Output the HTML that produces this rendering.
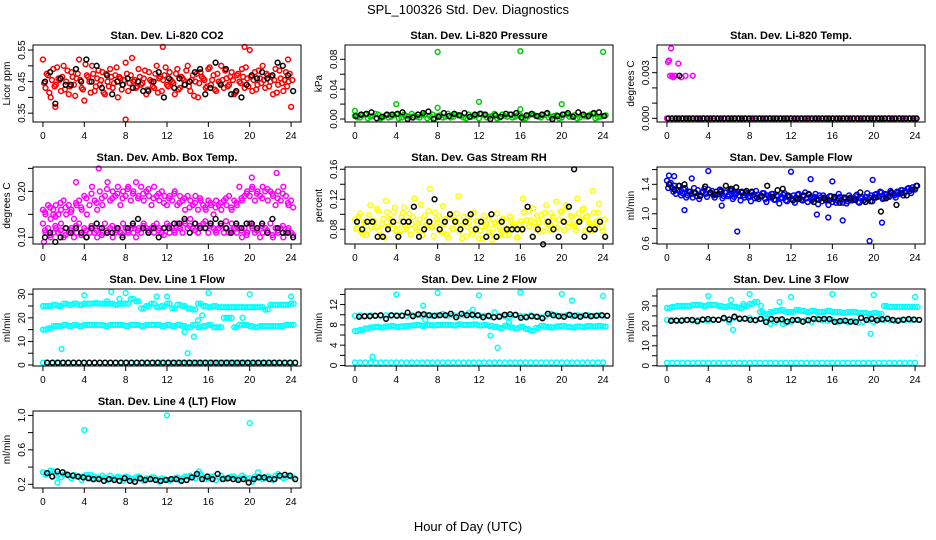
<!DOCTYPE html>
<html><head><meta charset="utf-8">
<style>
html,body{margin:0;padding:0;background:#fff;}
svg{display:block;font-family:"Liberation Sans",Arial,sans-serif;}
</style></head>
<body>
<svg id="chart" width="936" height="540" viewBox="0 0 936 540">
<text x="468" y="14" text-anchor="middle" font-size="13">SPL_100326  Std. Dev. Diagnostics</text>
<text x="468" y="531" text-anchor="middle" font-size="13">Hour of Day (UTC)</text>
</svg>
<script>
// ---- data arrays ----
const xTicks = [0,4,8,12,16,20,24];
const co2RedA = [0.52,0.43,0.47,0.40,0.49,0.44,0.46,0.42,0.50,0.45,0.41,0.48,0.44,0.46,0.52,0.43,0.39,0.47,0.45,0.50,0.42,0.46,0.44,0.48,0.41,0.45,0.49,0.43,0.47,0.40,0.46,0.44,0.51,0.42,0.47,0.45,0.43,0.49,0.44,0.46,0.41,0.48,0.45,0.43,0.50,0.46,0.42,0.47,0.44,0.48,0.45,0.41,0.49,0.43,0.46,0.44,0.50,0.42,0.47,0.45,0.40,0.48,0.46,0.43,0.49,0.44,0.47,0.42,0.45,0.50,0.43,0.46,0.44,0.48,0.41,0.47,0.45,0.49,0.43,0.46,0.55,0.42,0.48,0.44,0.46,0.50,0.43,0.47,0.45,0.41,0.49,0.44,0.46,0.42,0.48,0.45,0.37];
const co2RedB = [0.445,0.475,0.415,0.455,0.435,0.495,0.455,0.465,0.425,0.485,0.435,0.465,0.405,0.475,0.455,0.425,0.505,0.465,0.415,0.475,0.435,0.485,0.455,0.415,0.475,0.435,0.465,0.445,0.495,0.465,0.425,0.455,0.475,0.445,0.525,0.455,0.435,0.465,0.445,0.485,0.425,0.455,0.435,0.475,0.415,0.465,0.455,0.495,0.435,0.455,0.445,0.475,0.425,0.465,0.455,0.485,0.435,0.455,0.405,0.475,0.445,0.465,0.455,0.435,0.495,0.455,0.425,0.475,0.445,0.455,0.485,0.435,0.465,0.455,0.415,0.475,0.445,0.465,0.495,0.435,0.465,0.455,0.425,0.485,0.445,0.455,0.475,0.435,0.465,0.455,0.415,0.485,0.445,0.455,0.435,0.475,0.455];
const co2Outlier = [0.56,0.33,0.56,0.37,0.52];
const co2OutlierT = [11.6,8,19.5,1.2,23.7];
const co2Black = [0.45,0.48,0.38,0.46,0.44,0.44,0.49,0.45,0.52,0.45,0.50,0.43,0.47,0.41,0.45,0.44,0.46,0.43,0.45,0.42,0.42,0.45,0.48,0.40,0.46,0.43,0.46,0.44,0.45,0.48,0.49,0.41,0.43,0.51,0.44,0.49,0.41,0.42,0.40,0.44,0.47,0.46,0.48,0.46,0.47,0.51,0.50,0.47,0.42];

const presGreenA = [0.004,0.002,0.006,0.003,0.007,0.001,0.005,0.003,0.006,0.002,0.004,0.007,0.003,0.005,0.001,0.006,0.004,0.002,0.007,0.003,0.005,0.002,0.006,0.004,0.001,0.005,0.003,0.007,0.002,0.004,0.006,0.003,0.005,0.001,0.006,0.004,0.002,0.007,0.003,0.005,0.002,0.006,0.004,0.001,0.005,0.003,0.007,0.002,0.004];
const presGreenB = [0.002,0.005,0.001,0.004,0.006,0.003,0.002,0.005,0.001,0.006,0.003,0.004,0.002,0.006,0.004,0.001,0.005,0.003,0.002,0.006,0.004,0.001,0.003,0.005,0.007,0.002,0.004,0.001,0.006,0.003,0.002,0.005,0.001,0.004,0.006,0.003,0.005,0.002,0.004,0.001,0.006,0.003,0.005,0.002,0.004,0.006,0.001,0.003,0.005];
const presOutlierT = [0,4,8,8,12,16,16,20,24];
const presOutlier = [0.011,0.020,0.090,0.015,0.023,0.091,0.013,0.020,0.090];
const presBlack = [0.004,0.006,0.007,0.009,0.001,0.003,0.006,0.006,0.007,0.009,0.000,0.002,0.006,0.008,0.010,0.000,0.003,0.008,0.004,0.007,0.005,0.008,0.003,0.006,0.007,0.006,0.000,0.005,0.003,0.007,0.006,0.008,0.002,0.005,0.007,0.004,0.006,0.008,0.000,0.004,0.006,0.008,0.003,0.009,0.006,0.004,0.008,0.009,0.004];

const tempMagentaZero = [0,0,0,0,0,0,0,0,0,0,0,0,0,0,0,0,0,0,0,0,0,0,0,0,0,0,0,0,0,0,0,0,0,0,0,0,0,0,0,0,0,0,0,0,0,0,0,0,0];
const tempMagentaT = [0.1,0.2,0.4,0.5,0.6,0.8,1.1,1.4,1.8,2.5,0.3];
const tempMagenta = [0.0037,0.0038,0.0046,0.0028,0.0027,0.0028,0.0036,0.0027,0.0028,0.0028,0.0028];
const tempBlack = [0,0,0,0,0,0,0,0,0,0,0,0,0,0,0,0,0,0,0,0,0,0,0,0,0,0,0,0,0,0,0,0,0,0,0,0,0,0,0,0,0,0,0,0,0,0,0,0,0,0,0,0,0,0,0,0,0,0,0,0,0,0,0,0,0,0,0,0,0,0,0,0];
const tempBlackT = [1.2];
const tempBlackHigh = [0.0028];

const ambUpper = [0.16,0.15,0.17,0.14,0.16,0.17,0.15,0.16,0.18,0.15,0.17,0.16,0.14,0.17,0.18,0.16,0.19,0.15,0.17,0.21,0.18,0.16,0.20,0.17,0.19,0.22,0.18,0.20,0.19,0.21,0.17,0.20,0.19,0.21,0.18,0.20,0.22,0.19,0.21,0.18,0.20,0.19,0.17,0.21,0.19,0.18,0.20,0.19,0.17,0.19,0.18,0.20,0.17,0.19,0.18,0.16,0.19,0.18,0.17,0.19,0.16,0.18,0.17,0.16,0.18,0.17,0.15,0.18,0.17,0.16,0.18,0.17,0.19,0.16,0.18,0.17,0.21,0.18,0.19,0.20,0.19,0.21,0.18,0.20,0.19,0.21,0.20,0.18,0.20,0.19,0.17,0.20,0.18,0.21,0.19,0.17,0.18];
const ambUpperB = [0.155,0.165,0.145,0.175,0.165,0.155,0.175,0.165,0.185,0.195,0.175,0.185,0.205,0.185,0.195,0.185,0.205,0.195,0.185,0.195,0.205,0.185,0.195,0.175,0.185,0.195,0.175,0.185,0.165,0.175,0.185,0.165,0.175,0.165,0.175,0.185,0.165,0.175,0.185,0.195,0.205,0.195,0.185,0.205,0.195,0.185,0.195,0.175,0.165];
const ambLower = [0.13,0.11,0.12,0.10,0.11,0.12,0.11,0.13,0.10,0.12,0.11,0.12,0.10,0.11,0.13,0.11,0.12,0.10,0.11,0.12,0.11,0.10,0.12,0.11,0.13,0.11,0.12,0.10,0.11,0.12,0.11,0.13,0.12,0.11,0.12,0.11,0.10,0.12,0.11,0.13,0.12,0.11,0.12,0.11,0.13,0.12,0.11,0.12,0.13,0.11,0.12,0.11,0.13,0.12,0.11,0.13,0.12,0.14,0.12,0.13,0.11,0.12,0.13,0.12,0.11,0.13,0.12,0.11,0.12,0.13,0.11,0.12,0.11,0.13,0.12,0.11,0.12,0.10,0.12,0.11,0.13,0.12,0.11,0.12,0.10,0.11,0.12,0.11,0.13,0.10,0.12,0.11,0.12,0.10,0.11,0.12,0.11];
const ambLowerB = [0.115,0.105,0.125,0.115,0.105,0.115,0.125,0.105,0.115,0.125,0.115,0.105,0.115,0.125,0.115,0.105,0.115,0.125,0.115,0.125,0.115,0.125,0.115,0.105,0.125,0.115,0.125,0.135,0.125,0.115,0.125,0.135,0.125,0.115,0.125,0.135,0.115,0.125,0.115,0.105,0.125,0.115,0.125,0.115,0.105,0.115,0.125,0.115,0.105];
const ambOutlierT = [5.4,3.2,20.2,22.6,0.1,1.0];
const ambOutlier = [0.25,0.22,0.23,0.24,0.09,0.15];
const ambBlack = [0.10,0.11,0.09,0.10,0.12,0.11,0.12,0.11,0.10,0.12,0.13,0.12,0.11,0.11,0.12,0.10,0.12,0.13,0.14,0.12,0.11,0.12,0.10,0.12,0.12,0.13,0.13,0.14,0.11,0.13,0.12,0.12,0.13,0.14,0.13,0.12,0.11,0.13,0.12,0.13,0.13,0.12,0.13,0.11,0.14,0.12,0.11,0.11,0.10];

const rhYellowA = [0.093,0.082,0.101,0.074,0.088,0.079,0.112,0.091,0.083,0.104,0.071,0.094,0.118,0.084,0.092,0.103,0.078,0.073,0.096,0.109,0.081,0.101,0.087,0.121,0.079,0.093,0.072,0.098,0.086,0.134,0.083,0.102,0.089,0.077,0.111,0.094,0.069,0.099,0.081,0.092,0.124,0.085,0.097,0.071,0.088,0.079,0.102,0.091,0.068,0.084,0.098,0.087,0.076,0.066,0.089,0.101,0.082,0.093,0.072,0.079,0.097,0.088,0.083,0.069,0.091,0.121,0.086,0.104,0.092,0.108,0.081,0.089,0.099,0.078,0.112,0.087,0.101,0.082,0.117,0.093,0.104,0.079,0.109,0.088,0.097,0.084,0.121,0.091,0.106,0.078,0.098,0.087,0.131,0.083,0.102,0.092,0.078];
const rhYellowB = [0.081,0.097,0.076,0.089,0.072,0.099,0.083,0.091,0.107,0.078,0.087,0.069,0.103,0.094,0.081,0.109,0.086,0.077,0.101,0.084,0.091,0.073,0.096,0.082,0.088,0.113,0.079,0.086,0.104,0.083,0.071,0.093,0.098,0.076,0.087,0.073,0.096,0.081,0.092,0.101,0.077,0.068,0.089,0.083,0.097,0.074,0.081,0.091,0.078,0.067,0.084,0.093,0.072,0.081,0.089,0.071,0.079,0.094,0.082,0.073,0.091,0.083,0.069,0.087,0.079,0.103,0.092,0.084,0.071,0.089,0.098,0.077,0.093,0.102,0.086,0.079,0.097,0.088,0.082,0.103,0.091,0.112,0.083,0.098,0.087,0.079,0.101,0.093,0.108,0.097,0.089,0.078,0.102,0.091,0.114,0.084,0.093];
const rhBlack = [0.09,0.08,0.09,0.09,0.07,0.07,0.08,0.09,0.07,0.09,0.09,0.11,0.07,0.08,0.09,0.12,0.08,0.09,0.10,0.09,0.08,0.09,0.10,0.08,0.09,0.07,0.10,0.07,0.09,0.08,0.08,0.08,0.08,0.11,0.07,0.08,0.06,0.09,0.08,0.07,0.09,0.11,0.16,0.09,0.07,0.08,0.08,0.09,0.07];

const flowBlueA = [1.45,1.40,1.35,1.38,1.32,1.30,1.28,1.35,1.25,1.30,1.22,1.28,1.32,1.25,1.30,1.27,1.33,1.28,1.25,1.30,1.27,1.32,1.24,1.29,1.26,1.31,1.23,1.28,1.25,1.30,1.22,1.27,1.24,1.29,1.21,1.26,1.23,1.28,1.20,1.25,1.22,1.27,1.19,1.24,1.21,1.26,1.18,1.23,1.20,1.25,1.22,1.27,1.19,1.24,1.21,1.26,1.18,1.23,1.20,1.25,1.17,1.22,1.19,1.24,1.16,1.21,1.18,1.23,1.15,1.20,1.17,1.22,1.19,1.24,1.16,1.21,1.18,1.23,1.20,1.25,1.22,1.27,1.24,1.29,1.21,1.26,1.23,1.28,1.25,1.30,1.27,1.32,1.29,1.34,1.31,1.36,1.33];
const flowBlueB = [1.35,1.42,1.30,1.27,1.38,1.25,1.33,1.22,1.30,1.27,1.35,1.24,1.20,1.29,1.34,1.23,1.28,1.31,1.22,1.26,1.33,1.21,1.29,1.24,1.32,1.20,1.27,1.30,1.18,1.25,1.29,1.22,1.17,1.26,1.31,1.20,1.24,1.28,1.16,1.23,1.27,1.19,1.25,1.14,1.22,1.28,1.17,1.24,1.20,1.15,1.26,1.21,1.18,1.29,1.16,1.23,1.20,1.27,1.13,1.22,1.25,1.18,1.12,1.24,1.20,1.15,1.27,1.19,1.22,1.14,1.25,1.18,1.21,1.26,1.15,1.23,1.19,1.28,1.22,1.17,1.26,1.23,1.30,1.20,1.27,1.24,1.31,1.26,1.22,1.29,1.32,1.25,1.30,1.35,1.28,1.33,1.38];
const flowOutlierT = [1.7,2.4,4,5.3,6.8,12,13.9,14.5,15.6,16,17,19.6,19.9,20.8,0.2,0.7];
const flowOutlier = [1.05,1.48,1.58,1.11,0.76,1.57,1.47,0.99,0.95,1.44,0.91,0.63,1.46,0.88,1.52,1.51];
const flowBlack = [1.40,1.33,1.38,1.40,1.30,1.29,1.24,1.37,1.29,1.26,1.30,1.38,1.34,1.36,1.29,1.31,1.30,1.22,1.24,1.38,1.23,1.32,1.34,1.25,1.18,1.20,1.25,1.27,1.16,1.19,1.21,1.18,1.23,1.15,1.22,1.21,1.19,1.29,1.16,1.17,1.22,1.03,1.21,1.29,1.12,1.28,1.25,1.33,1.38];

const l1Upper = [25,25,25.5,25,26,25.5,26,25.5,26,26,26.2,26,26,26,25.5,26,26,28,27,24,25,26,24.5,25,26,24,25.5,25,24,23.5,26,25,24.5,25,24.5,24.5,24.5,24.5,24.5,24.5,24.5,24.5,24.5,23.5,25.5,25.5,25.5,25.5,26];
const l1Lower = [15,15.5,16.5,16.5,17,16.5,17,16.5,17,17,17,17,16.5,17,17,17,16.5,17,17,16.5,17,17,17,16.5,17,16.5,17,16.5,16,17,16,16.5,17,16,16,20,20,16,17,17,16.5,16,16.5,16.5,16.5,16.5,16.5,17,17];
const l1Bottom = [1,1,1,1,1,1,1,1,1,1,1,1,1,1,1,1,1,1,1,1,1,1,1,1,1,1,1,1,1,1,1,1,1,1,1,1,1,1,1,1,1,1,1,1,1,1,1,1,1];
const l1OutlierT = [1.8,4,6.6,8,11,12,13.7,14,16,20,24,14.6,15,15.4,19.3,6.2,7.4];
const l1Outlier = [6.8,29.5,31,30.5,29,29,14,5,30.5,30,29,12,19,21,20,27,28];
const l1Black = [1,1,1,1,1,1,1,1,1,1,1,1,1,1,1,1,1,1,1,1,1,1,1,1,1,1,1,1,1,1,1,1,1,1,1,1,1,1,1,1,1,1,1,1,1,1,1,1];

const l2Upper = [9.8,9.9,9.8,9.9,9.8,9.8,9.9,9.8,9.9,9.9,9.8,9.9,9.9,9.8,9.9,9.8,9.9,10.2,9.8,9.9,9.8,9.9,10.3,9.8,9.9,9.8,9.6,10.5,9.8,9.7,9.6,9.9,9.8,9.7,9.9,9.6,9.5,9.8,10.2,9.9,9.8,9.9,9.8,9.9,9.8,9.9,9.8,9.9,9.8];
const l2Mid = [6.8,7,7.3,7.5,7.6,7.5,7.7,7.8,7.6,7.7,7.8,7.9,8,7.8,8,7.9,8,8,8,7.9,8.1,8,8,8.1,7.9,8,7.8,7.6,7.4,7.8,7.5,7.3,7.6,7.2,6.9,7.4,7.8,7.6,7.5,7.7,7.8,7.6,7.5,7.7,7.6,7.8,7.7,7.8,7.7];
const l2Bottom = [0.6,0.6,0.6,0.6,0.6,0.6,0.6,0.6,0.6,0.6,0.6,0.6,0.6,0.6,0.6,0.6,0.6,0.6,0.6,0.6,0.6,0.6,0.6,0.6,0.6,0.6,0.6,0.6,0.6,0.6,0.6,0.6,0.6,0.6,0.6,0.6,0.6,0.6,0.6,0.6,0.6,0.6,0.6,0.6,0.6,0.6,0.6,0.6,0.6];
const l2OutlierT = [1.7,4,6.6,8,11.4,12,13.1,13.8,16,20,21,24,6.8,14.9];
const l2Outlier = [1.7,14,11.8,14.3,11,13.8,5.9,3.5,14.4,14.1,12.8,13.7,9,8.5];
const l2Black = [9.6,9.7,9.7,9.8,9.9,9.2,9.9,9.8,9.8,10.4,9.7,10.1,10.1,9.9,9.8,9.9,9.9,10.2,9.5,10.2,9.9,10.0,9.9,9.5,9.8,9.5,9.6,10.0,10.1,10.0,9.4,9.5,9.7,9.6,9.3,10.2,9.9,9.7,9.6,10.0,9.8,9.6,9.9,9.7,9.8,9.9,9.8];

const l3Upper = [29,29.5,30,30,30,30.5,30.5,30,30.5,30.5,30,29.5,30,29.5,29,30,31,32,27,26,27,27.5,28,27,27,28,27.5,27,27.5,27,27,27.5,27,27,26.5,27,27,26.5,26.5,26,26.5,26,30,29.5,29.5,29.5,29.5,29.5,29.5];
const l3Mid = [23,23,22.5,23,23,22.5,23,23,22.5,23,23,23.5,22,24,24,23.5,24,23,23.5,22.5,21,22,23,21.5,22,23,22.5,23,22,23.5,23,22.5,23,22,22.5,22,22.5,21.5,22,23,22,23,23,23,22.5,23,23,23,23];
const l3Bottom = [1.5,1.5,1.5,1.5,1.5,1.5,1.5,1.5,1.5,1.5,1.5,1.5,1.5,1.5,1.5,1.5,1.5,1.5,1.5,1.5,1.5,1.5,1.5,1.5,1.5,1.5,1.5,1.5,1.5,1.5,1.5,1.5,1.5,1.5,1.5,1.5,1.5,1.5,1.5,1.5,1.5,1.5,1.5,1.5,1.5,1.5,1.5,1.5,1.5];
const l3OutlierT = [4,6.4,8,10,12,16,20,19.7,24,6.2,7.4,9.1,10.9,11.2];
const l3Outlier = [35,18,36,23,34.5,36,35.5,16,34.5,33,31,30,32,21];
const l3Black = [22.5,22.7,22.6,22.9,23.0,22.3,23.2,23.4,23.1,23.0,24.0,23.2,24.6,23.5,23.6,23.0,22.8,23.5,21.9,23.4,23.0,23.3,22.2,22.9,23.0,22.1,22.8,23.5,23.3,23.5,23.4,22.0,22.4,22.6,22.1,22.0,24.0,23.0,23.5,22.8,23.3,23.6,23.0,22.6,23.1,23.4,23.2,23.0];

const l4CyanA = [0.34,0.33,0.35,0.32,0.31,0.30,0.31,0.29,0.30,0.28,0.29,0.27,0.28,0.30,0.27,0.28,0.29,0.27,0.28,0.26,0.27,0.28,0.26,0.27,0.25,0.26,0.28,0.27,0.29,0.28,0.30,0.28,0.27,0.29,0.28,0.27,0.28,0.29,0.27,0.28,0.27,0.29,0.28,0.27,0.28,0.30,0.29,0.28,0.29];
const l4CyanB = [0.31,0.36,0.30,0.28,0.32,0.27,0.29,0.25,0.31,0.26,0.28,0.30,0.25,0.27,0.29,0.24,0.28,0.26,0.29,0.24,0.26,0.28,0.23,0.26,0.24,0.27,0.25,0.29,0.30,0.27,0.32,0.26,0.29,0.25,0.30,0.26,0.29,0.27,0.30,0.26,0.23,0.28,0.26,0.29,0.25,0.32,0.27,0.30,0.28];
const l4OutlierT = [4,12,20,1.4,4.6,15.1,20.8];
const l4Outlier = [0.83,1.0,0.91,0.22,0.31,0.35,0.34];
const l4Black = [0.33,0.29,0.35,0.34,0.31,0.30,0.29,0.28,0.27,0.26,0.26,0.24,0.26,0.25,0.24,0.27,0.24,0.23,0.27,0.25,0.26,0.25,0.24,0.25,0.26,0.26,0.24,0.25,0.28,0.32,0.26,0.29,0.26,0.32,0.26,0.27,0.26,0.25,0.26,0.22,0.26,0.28,0.28,0.26,0.26,0.30,0.31,0.30,0.26];

// ---- layout ----
const svg = document.getElementById('chart');
const NS = 'http://www.w3.org/2000/svg';
const colLeft = [33, 345, 657];
const rowTop = [45, 167, 289, 411];
const boxW = 268, boxH = 77;

function mk(tag, attrs, parent) {
  const e = document.createElementNS(NS, tag);
  for (const k in attrs) e.setAttribute(k, attrs[k]);
  (parent || svg).appendChild(e);
  return e;
}

function panel(p) {
  const g = mk('g', {});
  
  
  const L = colLeft[p.col], T = rowTop[p.row];
  const xs = v => L + (v + 0.96) / 25.92 * boxW;
  const ys = v => T + boxH - (v - p.ylim[0]) / (p.ylim[1] - p.ylim[0]) * boxH;
  const t = mk('text', {x: L + boxW / 2, y: T - 6, 'text-anchor': 'middle', 'font-size': 11, 'font-weight': 'bold'}, g);
  t.textContent = p.title;
  
  
  const yl = mk('text', {x: 0, y: 0, 'text-anchor': 'middle', 'font-size': 10, transform: `translate(${L - 23},${T + boxH / 2}) rotate(-90)`}, g);
  yl.textContent = p.ylab;
  
  
  p.yticks.forEach(v => {
    const y = ys(v);
    mk('line', {x1: L - 5, x2: L, y1: y, y2: y, stroke: '#000', 'stroke-width': 1}, g);
  });
  p.ylabels.forEach(v => {
    const y = ys(v);
    const tx = mk('text', {x: 0, y: 0, 'text-anchor': 'middle', 'font-size': 10, transform: `translate(${L - 8},${y}) rotate(-90)`}, g);
    tx.textContent = v.toFixed(p.dec);
    
    
  });
  xTicks.forEach(v => {
    const x = xs(v);
    mk('line', {x1: x, x2: x, y1: T + boxH, y2: T + boxH + 5, stroke: '#000', 'stroke-width': 1}, g);
    const tx = mk('text', {x: x, y: T + boxH + 17, 'text-anchor': 'middle', 'font-size': 10}, g);
    tx.textContent = v;
    
    
  });
  p.series.forEach(s => {
    const sg = mk('g', {fill: 'none', stroke: s.color, 'stroke-width': 1.5}, g);
    
    
    const n = s.vals.length;
    s.vals.forEach((v, i) => {
      const h = s.times ? s.times[i] : (n > 1 ? i * 24 / (n - 1) : 0) + (s.shift || 0);
      const c = mk('circle', {cx: xs(h), cy: ys(v), r: 2.4}, sg);
      
      
    });
  });
  const b = mk('rect', {x: L, y: T, width: boxW, height: boxH, fill: 'none', stroke: '#000', 'stroke-width': 1}, g);
  
  
}

panel({name:'panel-co2', col:0,row:0,title:'Stan. Dev. Li-820 CO2',ylab:'Licor ppm',ylim:[0.322,0.566],yticks:[0.35,0.40,0.45,0.50,0.55],ylabels:[0.35,0.45,0.55],dec:2,
  series:[{name:'co2-red-a',vals:co2RedA,color:'#ff0000'},{name:'co2-red-b',vals:co2RedB,color:'#ff0000',shift:0.12},{name:'co2-red-outliers',vals:co2Outlier,times:co2OutlierT,color:'#ff0000'},{name:'co2-black',vals:co2Black,color:'#000',shift:0.2}]});
panel({name:'panel-pressure', col:1,row:0,title:'Stan. Dev. Li-820 Pressure',ylab:'kPa',ylim:[-0.004,0.0992],yticks:[0,0.02,0.04,0.06,0.08],ylabels:[0,0.04,0.08],dec:2,
  series:[{name:'pres-green-a',vals:presGreenA,color:'#00cc00'},{name:'pres-green-b',vals:presGreenB,color:'#00cc00',shift:0.25},{name:'pres-green-outliers',vals:presOutlier,times:presOutlierT,color:'#00cc00'},{name:'pres-black',vals:presBlack,color:'#000',shift:0.1}]});
panel({name:'panel-temp', col:2,row:0,title:'Stan. Dev. Li-820 Temp.',ylab:'degrees C',ylim:[-0.00024,0.00482],yticks:[0,0.001,0.002,0.003,0.004],ylabels:[0,0.003],dec:3,
  series:[{name:'temp-magenta-zero',vals:tempMagentaZero,color:'#ff00ff'},{name:'temp-magenta-high',vals:tempMagenta,times:tempMagentaT,color:'#ff00ff'},{name:'temp-black',vals:tempBlack,color:'#000',shift:0.15},{name:'temp-black-high',vals:tempBlackHigh,times:tempBlackT,color:'#000'}]});
panel({name:'panel-ambbox', col:0,row:1,title:'Stan. Dev. Amb. Box Temp.',ylab:'degrees C',ylim:[0.0855,0.253],yticks:[0.10,0.15,0.20,0.25],ylabels:[0.10,0.20],dec:2,
  series:[{name:'amb-upper',vals:ambUpper,color:'#ff00ff'},{name:'amb-upper-b',vals:ambUpperB,color:'#ff00ff',shift:0.2},{name:'amb-lower',vals:ambLower,color:'#ff00ff'},{name:'amb-lower-b',vals:ambLowerB,color:'#ff00ff',shift:0.2},{name:'amb-outliers',vals:ambOutlier,times:ambOutlierT,color:'#ff00ff'},{name:'amb-black',vals:ambBlack,color:'#000',shift:0.2}]});
panel({name:'panel-rh', col:1,row:1,title:'Stan. Dev. Gas Stream RH',ylab:'percent',ylim:[0.0604,0.163],yticks:[0.08,0.10,0.12,0.14,0.16],ylabels:[0.08,0.12,0.16],dec:2,
  series:[{name:'rh-yellow-a',vals:rhYellowA,color:'#ffff00'},{name:'rh-yellow-b',vals:rhYellowB,color:'#ffff00',shift:0.12},{name:'rh-black',vals:rhBlack,color:'#000',shift:0.2}]});
panel({name:'panel-sampleflow', col:2,row:1,title:'Stan. Dev. Sample Flow',ylab:'ml/min',ylim:[0.59,1.635],yticks:[0.6,0.8,1.0,1.2,1.4,1.6],ylabels:[0.6,1.0,1.4],dec:1,
  series:[{name:'flow-blue-a',vals:flowBlueA,color:'#0000ff'},{name:'flow-blue-b',vals:flowBlueB,color:'#0000ff',shift:0.12},{name:'flow-blue-outliers',vals:flowOutlier,times:flowOutlierT,color:'#0000ff'},{name:'flow-black',vals:flowBlack,color:'#000',shift:0.2}]});
panel({name:'panel-line1', col:0,row:2,title:'Stan. Dev. Line 1 Flow',ylab:'ml/min',ylim:[-0.4,32.2],yticks:[0,5,10,15,20,25,30],ylabels:[0,10,20,30],dec:0,
  series:[{name:'l1-upper',vals:l1Upper,color:'#00ffff'},{name:'l1-upper-b',vals:l1Upper,color:'#00ffff',shift:0.25},{name:'l1-lower',vals:l1Lower,color:'#00ffff'},{name:'l1-lower-b',vals:l1Lower,color:'#00ffff',shift:0.25},{name:'l1-bottom',vals:l1Bottom,color:'#00ffff'},{name:'l1-outliers',vals:l1Outlier,times:l1OutlierT,color:'#00ffff'},{name:'l1-black',vals:l1Black,color:'#000',shift:0.4}]});
panel({name:'panel-line2', col:1,row:2,title:'Stan. Dev. Line 2 Flow',ylab:'ml/min',ylim:[-0.1,15.07],yticks:[0,2,4,6,8,10,12,14],ylabels:[0,4,8,12],dec:0,
  series:[{name:'l2-upper',vals:l2Upper,color:'#00ffff'},{name:'l2-mid',vals:l2Mid,color:'#00ffff'},{name:'l2-mid-b',vals:l2Mid,color:'#00ffff',shift:0.25},{name:'l2-bottom',vals:l2Bottom,color:'#00ffff'},{name:'l2-outliers',vals:l2Outlier,times:l2OutlierT,color:'#00ffff'},{name:'l2-black',vals:l2Black,color:'#000',shift:0.4}]});
panel({name:'panel-line3', col:2,row:2,title:'Stan. Dev. Line 3 Flow',ylab:'ml/min',ylim:[-0.15,38.5],yticks:[0,5,10,15,20,25,30,35],ylabels:[0,10,20,30],dec:0,
  series:[{name:'l3-upper',vals:l3Upper,color:'#00ffff'},{name:'l3-upper-b',vals:l3Upper,color:'#00ffff',shift:0.25},{name:'l3-mid',vals:l3Mid,color:'#00ffff'},{name:'l3-bottom',vals:l3Bottom,color:'#00ffff'},{name:'l3-outliers',vals:l3Outlier,times:l3OutlierT,color:'#00ffff'},{name:'l3-black',vals:l3Black,color:'#000',shift:0.4}]});
panel({name:'panel-line4', col:0,row:3,title:'Stan. Dev. Line 4 (LT) Flow',ylab:'ml/min',ylim:[0.157,1.051],yticks:[0.2,0.4,0.6,0.8,1.0],ylabels:[0.2,0.6,1.0],dec:1,
  series:[{name:'l4-cyan-a',vals:l4CyanA,color:'#00ffff'},{name:'l4-cyan-b',vals:l4CyanB,color:'#00ffff',shift:0.25},{name:'l4-outliers',vals:l4Outlier,times:l4OutlierT,color:'#00ffff'},{name:'l4-black',vals:l4Black,color:'#000',shift:0.4}]});
</script>
</body></html>
